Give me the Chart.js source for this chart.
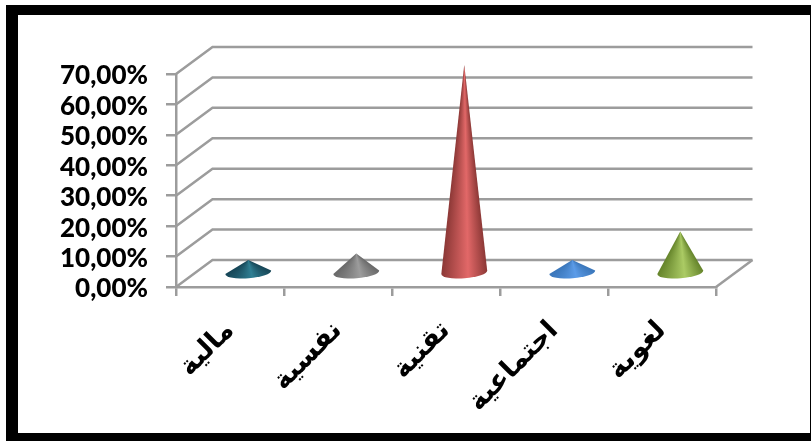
<!DOCTYPE html>
<html>
<head>
<meta charset="utf-8">
<script src="https://cdn.jsdelivr.net/npm/chart.js@4"></script>
<style>
  html, body { margin: 0; padding: 0; background: #fff; overflow: hidden; }
  #wrap { position: relative; width: 811px; height: 441px; }
  #frame {
    position: absolute; left: 6px; top: 5px; width: 805px; height: 436px;
    box-sizing: border-box; border: solid #000; border-width: 10px 1px 8px 12px;
  }
  canvas { position: absolute; left: 0; top: 0; }
</style>
</head>
<body>
<div id="wrap">
  <canvas id="coneChart" width="811" height="441"></canvas>
  <div id="frame"></div>
</div>
<script>
const categorias = ["مالية", "نفسية", "تقنية", "اجتماعية", "لغوية"];
const valores = [4.4, 6.6, 68.6, 4.4, 13.8];
const oscuros = ["#164556", "#686868", "#8c3836", "#3a76ba", "#64832a"];
const claros = ["#2f7f93", "#9c9c9c", "#e26868", "#5c9ce8", "#abcb64"];

const GRIS = "#9c9c9c";
const FONDO_X = 36.5, FONDO_Y = 27; // desplazamiento de la pared del fondo

const paredes = {
  id: "paredes",
  beforeDatasetsDraw(chart) {
    const { ctx, chartArea: a, scales: { y } } = chart;
    ctx.save();
    ctx.strokeStyle = GRIS;
    ctx.lineWidth = 2.5;
    y.ticks.forEach(t => {
      const py = y.getPixelForValue(t.value);
      ctx.beginPath();
      ctx.moveTo(a.left, py);
      ctx.lineTo(a.left + FONDO_X, py - FONDO_Y);
      ctx.lineTo(a.right + FONDO_X, py - FONDO_Y);
      ctx.stroke();
    });
    ctx.beginPath();
    ctx.moveTo(a.right, a.bottom);
    ctx.lineTo(a.right + FONDO_X, a.bottom - FONDO_Y);
    ctx.stroke();
    ctx.restore();
  }
};

// conos en lugar de barras, usando la posicion de cada barra
const conos = {
  id: "conos",
  afterDatasetsDraw(chart) {
    const { ctx } = chart;
    const rx = 23, ry = 6, giro = -0.075;
    chart.getDatasetMeta(0).data.forEach((bar, i) => {
      const cx = bar.x + FONDO_X / 2;
      const cy = bar.base - FONDO_Y / 2;
      const tipY = bar.y - FONDO_Y / 2;
      const der = { x: cx + rx * Math.cos(giro), y: cy + rx * Math.sin(giro) };
      const izq = { x: cx - rx * Math.cos(giro), y: cy - rx * Math.sin(giro) };
      // sombreado conico que converge en la punta
      const a0 = Math.atan2(der.y - tipY, der.x - cx) / (2 * Math.PI);
      const a1 = Math.atan2(izq.y - tipY, izq.x - cx) / (2 * Math.PI);
      const g = ctx.createConicGradient(0, cx, tipY);
      g.addColorStop(a0, oscuros[i]);
      g.addColorStop(a0 + (a1 - a0) * 0.42, claros[i]);
      g.addColorStop(a1, oscuros[i]);
      ctx.save();
      ctx.fillStyle = g;
      ctx.beginPath();
      ctx.moveTo(cx, tipY);
      ctx.lineTo(der.x, der.y);
      ctx.ellipse(cx, cy, rx, ry, giro, 0, Math.PI);
      ctx.closePath();
      ctx.fill();
      ctx.restore();
    });
  }
};

new Chart(document.getElementById("coneChart"), {
  type: "bar",
  data: {
    labels: categorias,
    datasets: [{ data: valores, backgroundColor: "transparent" }]
  },
  plugins: [paredes, conos],
  options: {
    responsive: false,
    animation: false,
    layout: { padding: { top: 74, right: 95 } },
    plugins: { legend: { display: false }, tooltip: { enabled: false } },
    scales: {
      x: {
        afterFit(s) { s.height = 154; },
        grid: { drawOnChartArea: false, color: GRIS, lineWidth: 2.5, tickLength: 9 },
        border: { color: GRIS, width: 2.5 },
        ticks: {
          color: "#000",
          minRotation: 45,
          maxRotation: 45,
          padding: 19,
          font: { family: '"DejaVu Sans"', weight: "bold", size: 27 }
        }
      },
      y: {
        min: 0,
        max: 70,
        afterFit(s) { s.width = 176; },
        grid: { drawOnChartArea: false, color: GRIS, lineWidth: 2.5, tickLength: 10 },
        border: { color: GRIS, width: 2.5 },
        ticks: {
          autoSkip: false,
          stepSize: 10,
          color: "#000",
          padding: 18,
          labelOffset: 2,
          font: { family: "Lato", weight: "900", size: 26 },
          callback: v => v.toFixed(2).replace(".", ",") + "%"
        }
      }
    }
  }
});
</script>
</body>
</html>
